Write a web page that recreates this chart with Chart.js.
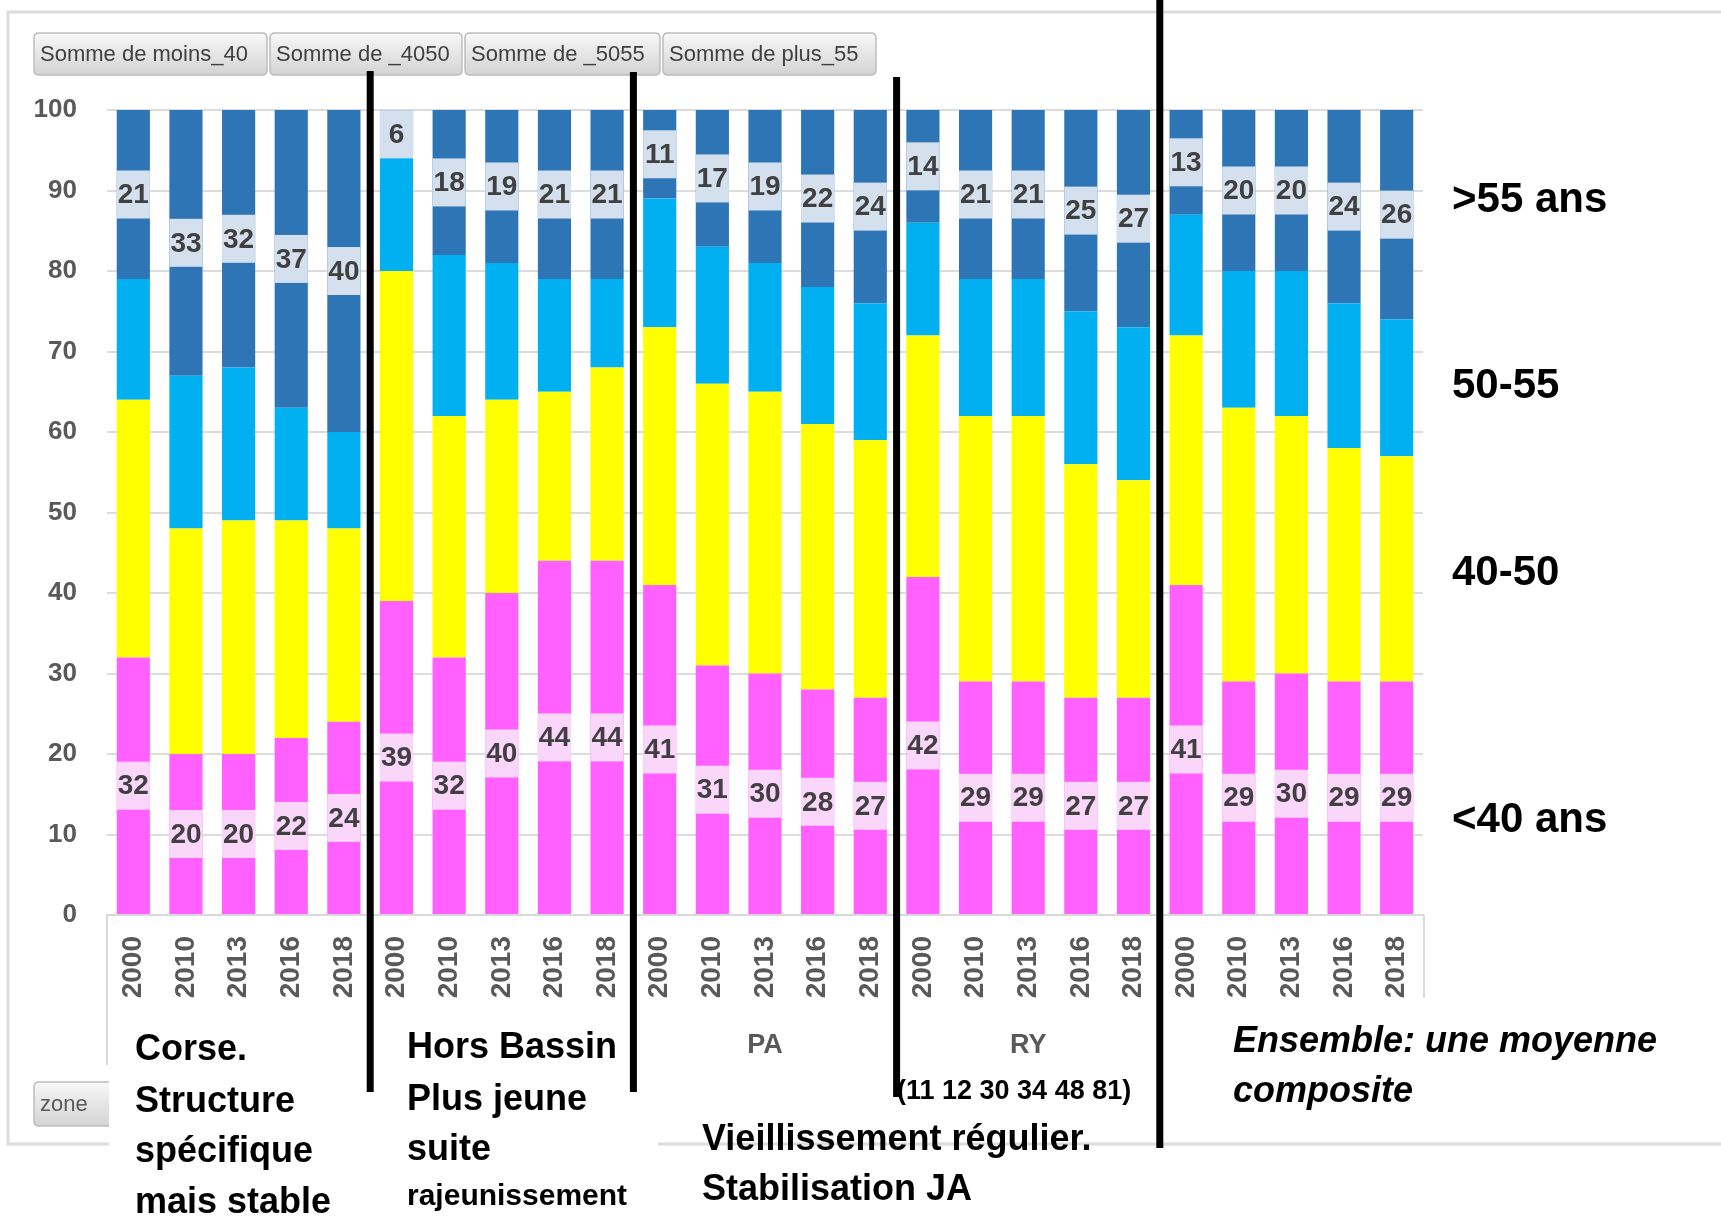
<!DOCTYPE html>
<html><head><meta charset="utf-8">
<script src="https://cdn.jsdelivr.net/npm/chart.js@4.4.1/dist/chart.umd.min.js"></script>
<style>html,body{margin:0;padding:0;background:#fff;}canvas{display:block;}</style>
</head><body>
<canvas id="c" width="1721" height="1218"></canvas>
<script>
// ---------- data ----------
const years = ['2000', '2010', '2013', '2016', '2018'];
const groups = ['Corse', 'Hors Bassin', 'PA', 'RY', 'Ensemble'];
const groupsShownOnAxis = ['PA', 'RY'];
const categories = groups.flatMap(() => years);

const moins40 = [32, 20, 20, 22, 24,  39, 32, 40, 44, 44,  41, 31, 30, 28, 27,  42, 29, 29, 27, 27,  41, 29, 30, 29, 29];
const de4050  = [32, 28, 29, 27, 24,  41, 30, 24, 21, 24,  32, 35, 35, 33, 32,  30, 33, 33, 29, 27,  31, 34, 32, 29, 28];
const de5055  = [15, 19, 19, 14, 12,  14, 20, 17, 14, 11,  16, 17, 16, 17, 17,  14, 17, 17, 19, 19,  15, 17, 18, 18, 17];
const plus55  = [21, 33, 32, 37, 40,   6, 18, 19, 21, 21,  11, 17, 19, 22, 24,  14, 21, 21, 25, 27,  13, 20, 20, 24, 26];

const seriesNames = ['Somme de moins_40', 'Somme de _4050', 'Somme de _5055', 'Somme de plus_55'];
const ageLabels = ['<40 ans', '40-50', '50-55', '>55 ans'];
const yTicks = [0, 10, 20, 30, 40, 50, 60, 70, 80, 90, 100];

const noteCorse = ['Corse.', 'Structure', 'spécifique', 'mais stable'];
const noteHB = ['Hors Bassin', 'Plus jeune', 'suite'];
const noteHBsmall = 'rajeunissement';
const noteRY = '(11 12 30 34 48 81)';
const notePA = ['Vieillissement régulier.', 'Stabilisation JA'];
const noteEns = ['Ensemble: une moyenne', 'composite'];
const zoneLabel = 'zone';

// ---------- styles ----------
const FONT = "'Liberation Sans', Arial, sans-serif";
const colors = ['#FF60FF', '#FFFF00', '#00B0F0', '#2E75B6'];
const labelBoxColors = {0: '#FBD6FB', 3: '#D5E0EE'};
const labelledSeries = [0, 3];

function roundRect(ctx, x, y, w, h, r) {
  ctx.beginPath();
  ctx.moveTo(x + r, y);
  ctx.lineTo(x + w - r, y); ctx.quadraticCurveTo(x + w, y, x + w, y + r);
  ctx.lineTo(x + w, y + h - r); ctx.quadraticCurveTo(x + w, y + h, x + w - r, y + h);
  ctx.lineTo(x + r, y + h); ctx.quadraticCurveTo(x, y + h, x, y + h - r);
  ctx.lineTo(x, y + r); ctx.quadraticCurveTo(x, y, x + r, y);
  ctx.closePath();
}
function drawButton(ctx, x, y, w, h, text, color) {
  const g = ctx.createLinearGradient(0, y, 0, y + h);
  g.addColorStop(0, '#F8F8F8'); g.addColorStop(1, '#D3D3D3');
  roundRect(ctx, x, y, w, h, 5);
  ctx.fillStyle = g; ctx.fill();
  ctx.strokeStyle = '#BDBDBD'; ctx.lineWidth = 1.5; ctx.stroke();
  ctx.fillStyle = color; ctx.font = '22px ' + FONT;
  ctx.textAlign = 'left'; ctx.textBaseline = 'middle';
  ctx.fillText(text, x + 6, y + h / 2 + 1);
}

const decorPlugin = {
  id: 'decor',
  beforeDraw(chart) {
    const ctx = chart.ctx;
    ctx.save();
    ctx.fillStyle = '#fff'; ctx.fillRect(0, 0, chart.width, chart.height);
    // outer frame of the pivot chart
    ctx.strokeStyle = '#DCDCDC'; ctx.lineWidth = 3;
    ctx.beginPath();
    ctx.moveTo(1721, 12); ctx.lineTo(8, 12); ctx.lineTo(8, 1144); ctx.lineTo(109, 1144);
    ctx.moveTo(658, 1144); ctx.lineTo(1721, 1144);
    ctx.stroke();
    // field buttons
    const btns = [[34, 33, 233], [270, 33, 192], [465, 33, 195], [663, 33, 213]];
    btns.forEach((b, i) => drawButton(ctx, b[0], b[1], b[2], 42, seriesNames[i], '#404040'));
    // zone button (partly hidden behind the text box)
    ctx.save();
    ctx.beginPath(); ctx.rect(0, 0, 109, 1218); ctx.clip();
    drawButton(ctx, 34, 1082, 100, 44, zoneLabel, '#595959');
    ctx.restore();
    ctx.restore();
  },
  afterDatasetsDraw(chart) {
    const ctx = chart.ctx;
    ctx.save();
    labelledSeries.forEach(di => {
      const meta = chart.getDatasetMeta(di);
      const vals = chart.data.datasets[di].data;
      meta.data.forEach((el, i) => {
        const cy = (el.y + el.base) / 2;
        ctx.fillStyle = labelBoxColors[di];
        ctx.fillRect(el.x - el.width / 2, cy - 24, el.width, 48);
        ctx.fillStyle = '#404040';
        ctx.font = 'bold 28px ' + FONT;
        ctx.textAlign = 'center'; ctx.textBaseline = 'middle';
        ctx.fillText(String(vals[i]), el.x, cy + 1);
      });
    });
    ctx.restore();
  },
  afterDraw(chart) {
    const ctx = chart.ctx;
    const xs = chart.scales.x;
    const a = chart.chartArea;
    ctx.save();
    // multi-level axis borders
    ctx.strokeStyle = '#D9D9D9'; ctx.lineWidth = 2;
    ctx.beginPath();
    ctx.moveTo(a.left, a.bottom); ctx.lineTo(a.left, 1065);
    ctx.moveTo(a.right + 1, a.bottom); ctx.lineTo(a.right + 1, 998);
    ctx.stroke();

    // annotation texts
    ctx.fillStyle = '#000'; ctx.textAlign = 'left'; ctx.textBaseline = 'alphabetic';
    ctx.font = 'bold 36px ' + FONT;
    [1060, 1112, 1162, 1213].forEach((y, i) => ctx.fillText(noteCorse[i], 135, y));
    [1058, 1110, 1160].forEach((y, i) => ctx.fillText(noteHB[i], 407, y));
    ctx.font = 'bold 30px ' + FONT;
    ctx.fillText(noteHBsmall, 407, 1205);
    ctx.font = 'bold 36px ' + FONT;
    [1150, 1200].forEach((y, i) => ctx.fillText(notePA[i], 702, y));
    ctx.font = 'bold 27px ' + FONT;
    ctx.fillText(noteRY, 897, 1099);
    ctx.font = 'italic bold 36px ' + FONT;
    [1052, 1102].forEach((y, i) => ctx.fillText(noteEns[i], 1233, y));

    // right-hand age labels
    ctx.font = 'bold 42px ' + FONT;
    const ageY = [832, 585, 398, 212];
    ageLabels.forEach((t, i) => ctx.fillText(t, 1452, ageY[i]));

    // thick black separators between groups
    const n = years.length;
    const sep = [];
    for (let g = 1; g < groups.length; g++) {
      sep.push((xs.getPixelForValue(g * n - 1) + xs.getPixelForValue(g * n)) / 2);
    }
    const spans = [[71, 1092], [72, 1092], [77, 1097], [0, 1148]];
    ctx.strokeStyle = '#000'; ctx.lineWidth = 7;
    sep.forEach((x, i) => {
      ctx.beginPath(); ctx.moveTo(x, spans[i][0]); ctx.lineTo(x, spans[i][1]); ctx.stroke();
    });
    ctx.restore();
  }
};

new Chart(document.getElementById('c'), {
  type: 'bar',
  data: {
    labels: categories,
    datasets: [moins40, de4050, de5055, plus55].map((d, i) => ({
      label: seriesNames[i],
      data: d,
      backgroundColor: colors[i],
      borderWidth: 0,
      barPercentage: 0.63,
      categoryPercentage: 1.0,
      xAxisID: 'x'
    }))
  },
  options: {
    responsive: false,
    animation: false,
    devicePixelRatio: 1,
    layout: { padding: { left: 0, top: 110, right: 298, bottom: 118 } },
    plugins: { legend: { display: false }, tooltip: { enabled: false } },
    scales: {
      x: {
        stacked: true,
        offset: true,
        weight: 0,
        grid: { display: false, drawTicks: false },
        border: { display: true, color: '#D9D9D9', width: 2 },
        ticks: {
          autoSkip: false, minRotation: 90, maxRotation: 90, padding: 21,
          color: '#595959', font: { family: FONT, size: 28, weight: 'bold' }
        },
        afterFit(s) { s.height = 85; }
      },
      x2: {
        type: 'category',
        labels: groups,
        position: 'bottom',
        offset: true,
        weight: 1,
        grid: { display: false, drawTicks: false },
        border: { display: false },
        ticks: {
          autoSkip: false, maxRotation: 0, minRotation: 0, padding: 29,
          color: '#595959', font: { family: FONT, size: 27, weight: 'bold' },
          callback(v) { const l = this.getLabelForValue(v); return groupsShownOnAxis.includes(l) ? l : ''; }
        },
        afterFit(s) { s.height = 100; }
      },
      y: {
        stacked: true,
        min: 0, max: 100,
        afterBuildTicks(s) { s.ticks = yTicks.map(v => ({ value: v })); },
        grid: { color: '#DCDCDC', lineWidth: 2, drawTicks: false },
        border: { display: false },
        ticks: { padding: 30, color: '#595959', font: { family: FONT, size: 26, weight: 'bold' } },
        afterFit(s) { s.width = 107; }
      }
    }
  },
  plugins: [decorPlugin]
});
</script>
</body></html>
